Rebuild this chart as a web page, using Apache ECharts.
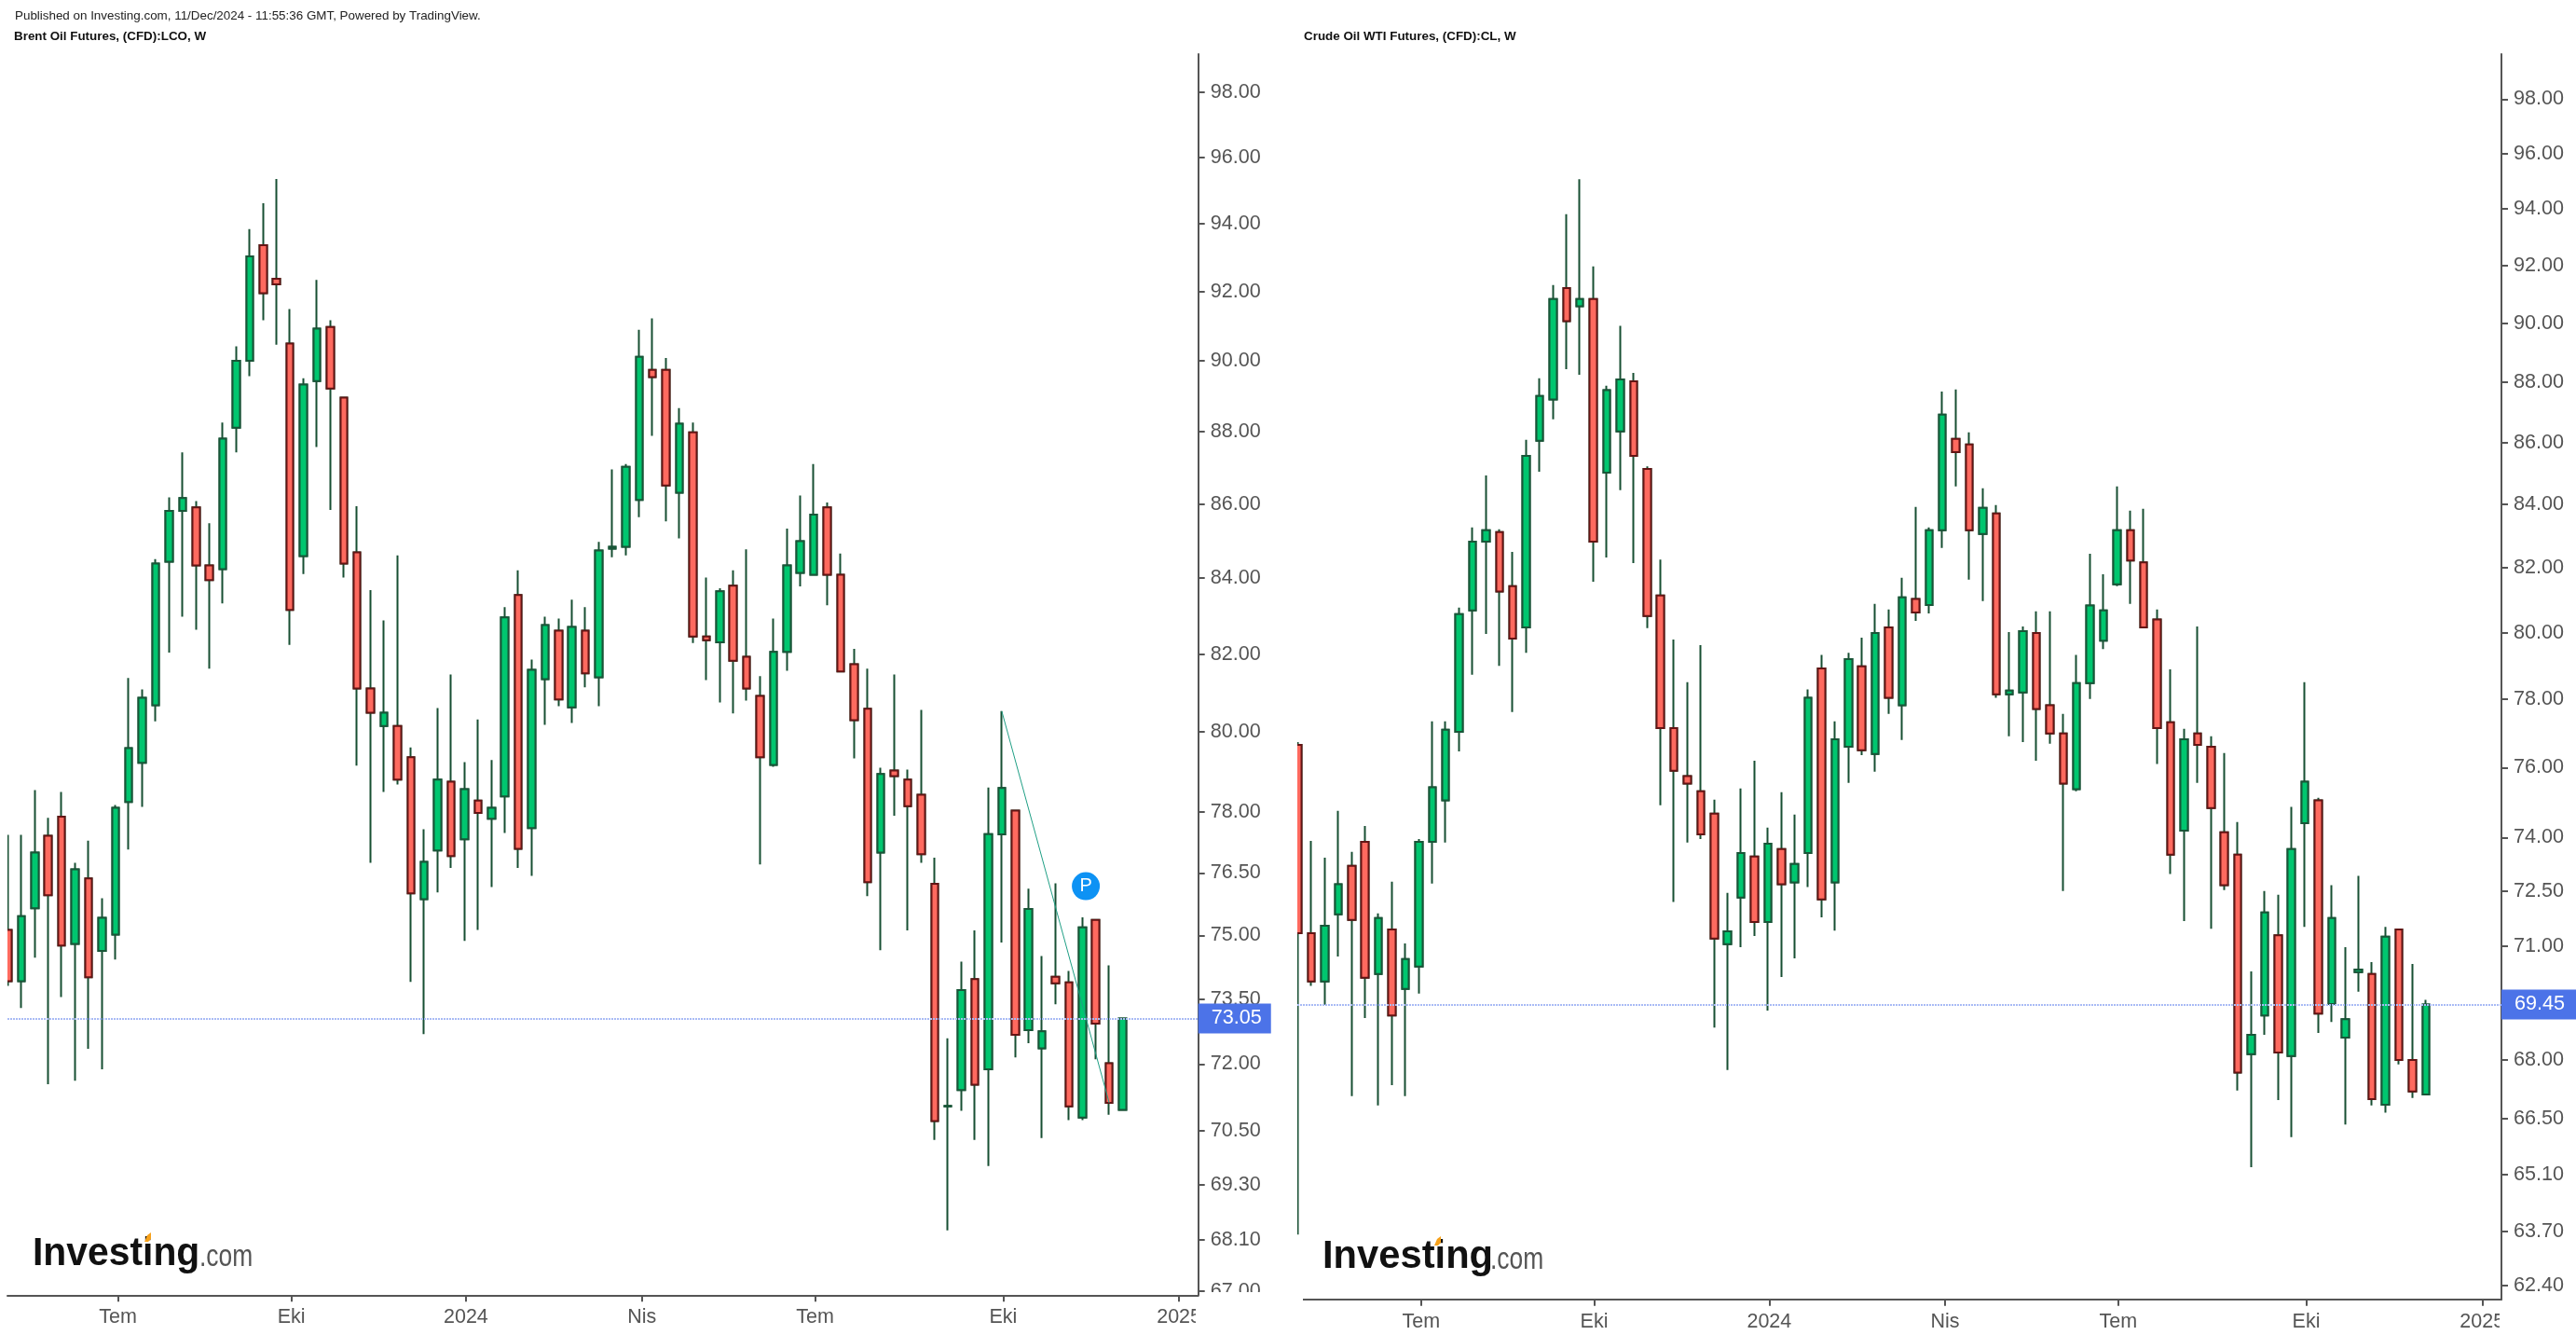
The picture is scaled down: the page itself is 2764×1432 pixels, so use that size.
<!DOCTYPE html>
<html>
<head>
<meta charset="utf-8">
<title>Brent / WTI weekly</title>
<style>
  html, body { margin: 0; padding: 0; background: #fff; }
  #chart { width: 2764px; height: 1432px; }
</style>
</head>
<body>
<div id="chart"></div>
<script src="https://cdn.jsdelivr.net/npm/echarts@6/dist/echarts.min.js"></script>
<script>
// weekly candles, oldest first
const brentOpen = [
  75.13, 73.92, 75.65, 77.41, 77.88, 74.80, 76.37, 74.63, 75.02, 78.24,
  79.22, 80.68, 84.44, 85.81, 85.91, 84.34, 84.24, 88.11, 90.00, 93.36,
  92.37, 90.49, 84.59, 89.42, 90.97, 88.95, 84.69, 81.11, 80.15, 80.15,
  79.36, 75.87, 77.05, 78.75, 77.32, 78.28, 77.83, 78.38, 83.55, 77.60,
  81.35, 82.61, 80.63, 82.61, 81.40, 84.79, 84.84, 86.11, 89.74, 89.74,
  86.31, 87.98, 82.46, 82.31, 83.80, 81.93, 80.92, 79.17, 82.06, 84.14,
  84.09, 85.91, 84.09, 81.74, 80.59, 77.00, 79.03, 78.80, 78.42, 76.24,
  71.04, 71.41, 73.97, 71.88, 77.44, 78.03, 72.78, 72.36, 74.02, 73.89,
  70.79, 75.37, 72.02, 70.96
]
const brentClose = [
  73.92, 75.46, 77.00, 75.96, 74.76, 76.59, 74.01, 75.42, 78.10, 79.59,
  80.87, 84.39, 85.81, 86.16, 84.34, 83.95, 87.80, 90.00, 93.03, 91.95,
  92.21, 83.16, 89.32, 90.92, 89.21, 84.39, 81.11, 80.49, 80.49, 78.80,
  76.01, 76.77, 78.80, 76.91, 78.56, 77.97, 78.10, 82.96, 77.09, 81.59,
  82.76, 80.83, 82.71, 81.50, 84.74, 84.84, 87.02, 90.11, 89.53, 86.51,
  88.22, 82.46, 82.36, 83.65, 81.83, 81.11, 79.36, 82.06, 84.34, 84.99,
  85.71, 84.09, 81.55, 80.30, 76.28, 78.94, 78.89, 78.14, 76.96, 70.71,
  71.05, 73.71, 71.53, 77.45, 78.59, 72.67, 75.63, 72.75, 73.87, 71.04,
  75.19, 72.93, 71.12, 73.05
]
const brentLow = [
  73.81, 73.29, 74.47, 71.54, 73.55, 71.62, 72.35, 71.88, 74.43, 77.07,
  78.12, 80.27, 82.04, 82.98, 82.64, 81.62, 83.33, 87.42, 89.56, 91.16,
  90.46, 82.24, 84.11, 87.57, 85.84, 84.02, 79.15, 76.75, 78.49, 78.68,
  73.90, 72.69, 76.03, 76.62, 74.87, 75.13, 76.16, 77.48, 76.62, 76.43,
  80.18, 80.66, 80.23, 81.14, 80.66, 84.56, 84.61, 85.64, 87.88, 85.53,
  85.07, 82.29, 81.33, 80.75, 80.47, 80.80, 76.71, 79.12, 81.57, 83.78,
  84.09, 83.28, 81.55, 79.33, 75.94, 74.65, 77.90, 75.12, 76.75, 70.29,
  68.30, 70.94, 70.29, 69.71, 74.83, 72.15, 72.48, 70.33, 73.38, 70.73,
  70.73, 72.11, 70.85, 70.96
]
const brentHigh = [
  77.43, 77.43, 78.54, 77.85, 78.49, 76.75, 77.29, 75.89, 78.17, 81.38,
  81.09, 84.51, 86.18, 87.42, 86.08, 85.48, 88.25, 90.41, 93.84, 94.61,
  95.34, 91.49, 89.50, 92.34, 91.16, 88.95, 85.94, 83.68, 82.88, 84.61,
  79.61, 77.57, 80.61, 81.47, 79.24, 80.32, 79.29, 83.23, 84.21, 81.86,
  82.98, 82.93, 83.43, 83.23, 84.97, 86.95, 87.10, 90.89, 91.22, 90.08,
  88.66, 88.25, 84.02, 83.73, 84.21, 84.77, 81.43, 82.93, 85.33, 86.23,
  87.10, 86.04, 84.66, 82.14, 81.62, 79.10, 81.47, 79.05, 80.56, 76.87,
  72.59, 74.38, 75.12, 78.60, 80.53, 78.03, 76.12, 74.51, 76.25, 74.16,
  75.43, 75.37, 74.29, 73.05
]

const wtiOpen = [
  76.66, 71.36, 70.06, 71.87, 73.21, 73.88, 70.26, 71.46, 69.86, 70.46,
  73.88, 75.06, 77.04, 80.68, 82.82, 83.12, 81.43, 80.16, 86.06, 87.42,
  91.21, 90.58, 90.83, 85.02, 86.37, 88.03, 85.14, 81.14, 77.15, 75.75,
  75.32, 74.68, 71.06, 72.33, 73.47, 71.66, 73.68, 72.75, 73.57, 78.92,
  72.75, 76.60, 78.98, 76.39, 80.16, 77.82, 81.03, 80.85, 83.18, 86.12,
  85.94, 83.06, 83.71, 78.15, 78.20, 79.99, 77.82, 76.99, 75.38, 78.48,
  79.76, 81.49, 83.18, 82.17, 80.40, 77.32, 74.20, 76.99, 76.60, 74.15,
  73.52, 68.15, 69.16, 71.30, 68.10, 74.41, 75.06, 69.46, 68.58, 70.31,
  70.26, 66.85, 71.46, 68.00, 67.11
]
const wtiClose = [
  71.36, 70.06, 71.56, 72.70, 71.72, 70.16, 71.77, 69.16, 70.66, 73.88,
  75.43, 77.10, 80.57, 82.82, 83.18, 81.26, 79.82, 85.57, 87.54, 90.83,
  90.07, 90.83, 82.82, 87.73, 88.09, 85.57, 80.51, 77.15, 75.91, 75.54,
  74.09, 71.21, 71.41, 73.57, 71.66, 73.83, 72.70, 73.26, 78.04, 72.28,
  76.82, 79.20, 76.50, 79.99, 78.04, 81.08, 80.62, 83.18, 86.92, 85.69,
  83.18, 83.89, 78.15, 78.26, 80.05, 77.71, 76.99, 75.54, 78.48, 80.83,
  80.68, 83.18, 82.23, 80.16, 77.15, 73.52, 76.82, 76.66, 74.84, 72.67,
  67.67, 68.65, 71.92, 68.19, 73.68, 75.59, 69.21, 71.77, 69.06, 70.38,
  66.99, 71.26, 68.00, 67.19, 69.45
]
const wtiLow = [
  63.63, 69.94, 69.44, 70.73, 67.07, 69.09, 66.83, 67.35, 67.07, 69.74,
  72.72, 73.86, 76.47, 78.73, 79.96, 79.00, 77.62, 79.39, 85.05, 86.77,
  88.44, 88.25, 81.57, 82.32, 84.46, 82.15, 80.14, 74.92, 72.21, 73.86,
  73.96, 68.84, 67.74, 70.98, 71.28, 69.29, 70.18, 70.68, 72.62, 71.79,
  71.43, 75.56, 76.36, 75.88, 77.57, 76.80, 80.36, 80.59, 82.62, 84.58,
  81.63, 80.97, 78.04, 76.91, 76.74, 76.20, 76.69, 72.51, 75.32, 78.01,
  79.50, 81.43, 80.88, 80.16, 76.10, 72.98, 71.69, 75.56, 71.48, 72.54,
  67.21, 65.28, 68.65, 66.97, 66.03, 71.53, 68.70, 68.99, 66.35, 69.79,
  66.83, 66.65, 67.88, 67.02, 67.11
]
const wtiHigh = [
  76.74, 73.91, 73.44, 74.76, 73.60, 74.33, 71.90, 72.77, 71.08, 73.96,
  77.35, 77.35, 80.77, 83.27, 84.93, 83.21, 82.50, 86.09, 88.13, 91.31,
  93.81, 95.06, 91.96, 87.88, 89.91, 88.31, 85.23, 82.26, 79.79, 78.51,
  79.62, 75.08, 72.46, 75.40, 76.20, 74.28, 75.29, 74.65, 78.29, 79.33,
  77.35, 79.39, 79.85, 80.88, 80.71, 81.69, 83.92, 83.27, 87.69, 87.76,
  86.34, 84.52, 83.98, 80.02, 80.19, 80.65, 80.65, 77.57, 79.33, 82.44,
  81.80, 84.58, 83.80, 83.86, 80.71, 78.89, 77.13, 80.19, 76.91, 76.42,
  74.44, 70.33, 72.51, 72.41, 74.87, 78.51, 75.13, 72.67, 70.98, 72.93,
  70.58, 71.53, 71.46, 70.53, 69.57
]

// time axis ticks, given as week position from the first candle
const timeLabels = ['Tem', 'Eki', '2024', 'Nis', 'Tem', 'Eki', '2025']
const brentTimeTicks = [8.2, 21.1, 34.1, 47.2, 60.1, 74.1, 87.2]
const wtiTimeTicks = [9.17, 22.06, 35.1, 48.2, 61.1, 75.1, 88.2]

const brentPriceTicks = [98, 96, 94, 92, 90, 88, 86, 84, 82, 80, 78, 76.5, 75, 73.5, 72, 70.5, 69.3, 68.1, 67]
const wtiPriceTicks = [98, 96, 94, 92, 90, 88, 86, 84, 82, 80, 78, 76, 74, 72.5, 71, 68, 66.5, 65.1, 63.7, 62.4]

const brentLast = 73.05
const wtiLast = 69.45

// trend line and the "P" note on the Brent pane
const brentTrend = [[74, 80.53], [82, 71.12]]
const brentNote = [80.26, 76.18]

const FONT = '"Liberation Sans", Arial, sans-serif'
const AXIS_COLOR = '#555555'
const WICK_COLOR = '#174f32'
const UP_COLOR = '#00c66f'
const UP_BORDER = '#185638'
const DOWN_COLOR = '#ff6a5f'
const DOWN_BORDER = '#641414'
const LINE_COLOR = '#a9bbf5'
const BOX_COLOR = '#4c73e8'

function candleRows(open, close, low, high) {
  return open.map((o, i) => [i, o, close[i], low[i], high[i]])
}

// second layer with no wick, ECharts strokes wick and border in one colour
function bodyRows(open, close) {
  return open.map((o, i) => [i, o, close[i], Math.min(o, close[i]), Math.max(o, close[i])])
}

function makeXAxis(gridIndex, min, max, ticks) {
  return {
    type: 'value',
    gridIndex: gridIndex,
    min: min,
    max: max,
    position: 'bottom',
    splitLine: { show: false },
    axisLine: { onZero: false, lineStyle: { color: AXIS_COLOR, width: 2 } },
    axisTick: { length: 7, lineStyle: { color: AXIS_COLOR, width: 2 }, customValues: ticks },
    axisLabel: {
      customValues: ticks,
      margin: 13,
      color: AXIS_COLOR,
      fontFamily: FONT,
      fontSize: 21.5,
      formatter: (v) => timeLabels[ticks.indexOf(v)]
    }
  }
}

function makeYAxis(gridIndex, min, max, ticks) {
  return {
    type: 'log',
    gridIndex: gridIndex,
    min: min,
    max: max,
    position: 'right',
    splitLine: { show: false },
    minorTick: { show: false },
    axisLine: { onZero: false, lineStyle: { color: AXIS_COLOR, width: 2 } },
    axisTick: { length: 7, lineStyle: { color: AXIS_COLOR, width: 2 }, customValues: ticks },
    axisLabel: {
      customValues: ticks,
      margin: 13,
      padding: [8, 0, 0, 0],
      color: AXIS_COLOR,
      fontFamily: FONT,
      fontSize: 21.6,
      formatter: (v) => v.toFixed(2)
    }
  }
}

function lastPriceLine(price, rightPad) {
  return {
    yAxis: price,
    lineStyle: { color: LINE_COLOR, type: [2, 1], width: 2 },
    label: {
      show: true,
      position: 'end',
      distance: 0,
      formatter: price.toFixed(2),
      color: '#ffffff',
      fontFamily: FONT,
      fontSize: 21.6,
      backgroundColor: BOX_COLOR,
      padding: [7, rightPad, 3, 14]
    }
  }
}

function makeSeries(idx, open, close, low, high, markLineData, markPointData) {
  return [
    {
      type: 'candlestick',
      xAxisIndex: idx,
      yAxisIndex: idx,
      barWidth: 8,
      z: 2,
      encode: { x: 0, y: [1, 2, 3, 4] },
      itemStyle: {
        color: WICK_COLOR,
        color0: WICK_COLOR,
        borderColor: WICK_COLOR,
        borderColor0: WICK_COLOR,
        borderColorDoji: WICK_COLOR,
        borderWidth: 2
      },
      data: candleRows(open, close, low, high)
    },
    {
      type: 'candlestick',
      xAxisIndex: idx,
      yAxisIndex: idx,
      barWidth: 8,
      z: 3,
      encode: { x: 0, y: [1, 2, 3, 4] },
      itemStyle: {
        color: UP_COLOR,
        color0: DOWN_COLOR,
        borderColor: UP_BORDER,
        borderColor0: DOWN_BORDER,
        borderColorDoji: UP_BORDER,
        borderWidth: 2
      },
      data: bodyRows(open, close),
      markLine: {
        silent: true,
        animation: false,
        symbol: 'none',
        label: { show: false },
        data: markLineData
      },
      markPoint: markPointData
    }
  ]
}

const chart = echarts.init(document.getElementById('chart'), null, { renderer: 'canvas' })

chart.setOption({
  animation: false,
  backgroundColor: '#ffffff',
  title: [
    {
      text: 'Published on Investing.com, 11/Dec/2024 - 11:55:36 GMT, Powered by TradingView.',
      left: 16,
      top: 11,
      padding: 0,
      textStyle: { color: '#222222', fontFamily: FONT, fontSize: 13.4, fontWeight: 'normal' }
    },
    {
      text: 'Brent Oil Futures, (CFD):LCO, W',
      left: 15,
      top: 33,
      padding: 0,
      textStyle: { color: '#111111', fontFamily: FONT, fontSize: 13.4, fontWeight: 'bold' }
    },
    {
      text: 'Crude Oil WTI Futures, (CFD):CL, W',
      left: 1399,
      top: 33,
      padding: 0,
      textStyle: { color: '#111111', fontFamily: FONT, fontSize: 13.4, fontWeight: 'bold' }
    }
  ],
  grid: [
    { left: 8, top: 58, width: 1277.7, height: 1331.3 },
    { left: 1392, top: 58, width: 1292, height: 1335.7 }
  ],
  xAxis: [
    makeXAxis(0, -0.035, 88.63, brentTimeTicks),
    makeXAxis(1, -0.05, 89.64, wtiTimeTicks)
  ],
  yAxis: [
    makeYAxis(0, 66.91, 99.195, brentPriceTicks),
    makeYAxis(1, 62.08, 99.7, wtiPriceTicks)
  ],
  series: [
    ...makeSeries(0, brentOpen, brentClose, brentLow, brentHigh, [
      lastPriceLine(brentLast, 10),
      [
        { coord: brentTrend[0], lineStyle: { color: '#1f9f85', type: 'solid', width: 1 } },
        { coord: brentTrend[1] }
      ]
    ], {
      silent: true,
      animation: false,
      symbol: 'circle',
      symbolSize: 30,
      itemStyle: { color: '#0d92f4' },
      label: { show: true, formatter: 'P', color: '#ffffff', fontFamily: FONT, fontSize: 20 },
      data: [{ coord: brentNote }]
    }),
    ...makeSeries(1, wtiOpen, wtiClose, wtiLow, wtiHigh, [lastPriceLine(wtiLast, 13)], { data: [] })
  ],
  graphic: [
    // the first candle of each pane is cut by the pane edge in the source
    { type: 'rect', z: 100, shape: { x: 0, y: 58, width: 8, height: 1330 }, style: { fill: '#ffffff' } },
    { type: 'rect', z: 100, shape: { x: 1384, y: 58, width: 8, height: 1334 }, style: { fill: '#ffffff' } },
    // labels the source chart cuts off at its pane edges
    { type: 'rect', z: 100, shape: { x: 1288, y: 1386, width: 110, height: 12 }, style: { fill: '#ffffff' } },
    { type: 'rect', z: 100, shape: { x: 1283, y: 1392, width: 40, height: 40 }, style: { fill: '#ffffff' } },
    { type: 'rect', z: 100, shape: { x: 2682, y: 1397, width: 40, height: 35 }, style: { fill: '#ffffff' } },
    // logos
    { type: 'text', z: 100, x: 35, y: 1345, scaleX: 0.95, style: { text: 'Investing', fill: '#111111', font: 'bold 43px ' + FONT, verticalAlign: 'middle' } },
    { type: 'text', z: 100, x: 214, y: 1349, scaleX: 0.8, style: { text: '.com', fill: '#555555', font: '33px ' + FONT, verticalAlign: 'middle' } },
    { type: 'polygon', z: 101, shape: { points: [[155, 1332], [158, 1325], [162, 1322], [162, 1329], [159, 1332]] }, style: { fill: '#f7a11a' } },
    { type: 'text', z: 100, x: 1419, y: 1348, scaleX: 0.97, style: { text: 'Investing', fill: '#111111', font: 'bold 43px ' + FONT, verticalAlign: 'middle' } },
    { type: 'text', z: 100, x: 1599, y: 1352, scaleX: 0.8, style: { text: '.com', fill: '#555555', font: '33px ' + FONT, verticalAlign: 'middle' } },
    { type: 'polygon', z: 101, shape: { points: [[1539, 1336], [1542, 1329], [1546, 1326], [1546, 1333], [1543, 1336]] }, style: { fill: '#f7a11a' } }
  ]
})

window.addEventListener('resize', () => chart.resize())
</script>
</body>
</html>
